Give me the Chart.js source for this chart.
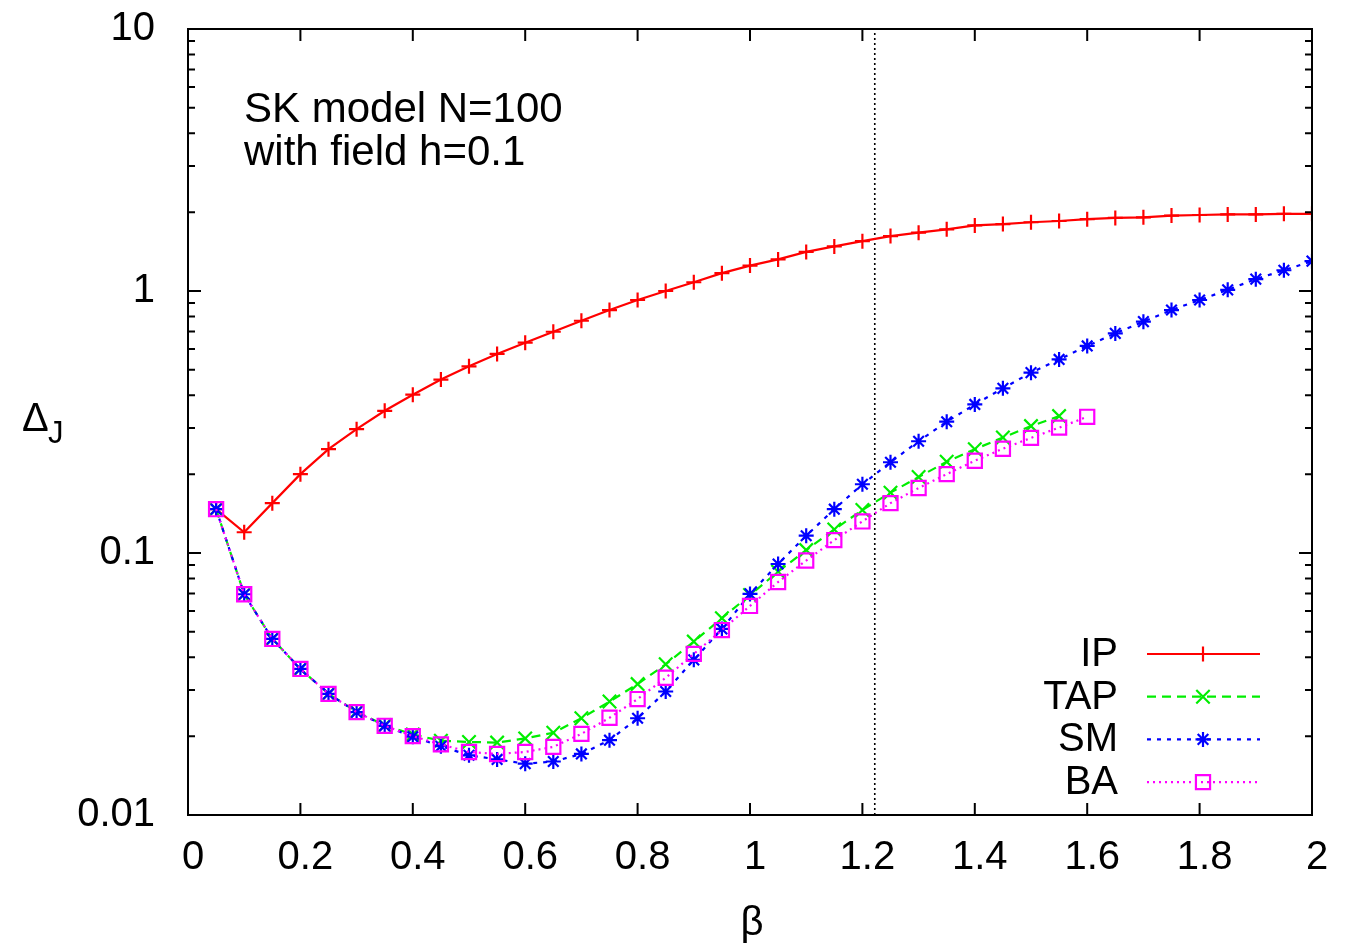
<!DOCTYPE html>
<html><head><meta charset="utf-8">
<script src="https://cdn.jsdelivr.net/npm/chart.js@4/dist/chart.umd.min.js"></script>
<style>html,body{margin:0;padding:0;background:#fff;}canvas{display:block;}</style>
</head><body>
<canvas id="c" width="1345" height="945"></canvas>
<script>
// ---------- data ----------
const beta = [0.05,0.10,0.15,0.20,0.25,0.30,0.35,0.40,0.45,0.50,0.55,0.60,0.65,0.70,0.75,0.80,0.85,0.90,0.95,1.00,
              1.05,1.10,1.15,1.20,1.25,1.30,1.35,1.40,1.45,1.50,1.55,1.60,1.65,1.70,1.75,1.80,1.85,1.90,1.95,2.00];
const ip  = [0.147,0.120,0.155,0.200,0.249,0.297,0.349,0.402,0.459,0.516,0.575,0.635,0.699,0.770,0.846,0.924,1.00,1.08,1.17,1.25,
             1.32,1.41,1.48,1.55,1.62,1.67,1.72,1.78,1.80,1.83,1.85,1.88,1.90,1.91,1.94,1.95,1.96,1.96,1.97,1.97];
const tap = [0.147,0.0696,0.0470,0.0361,0.0290,0.0248,0.0220,0.0203,0.0192,0.0190,0.0189,0.0196,0.0206,0.0234,0.0271,0.0316,0.0376,0.0459,0.0564,0.0691,
             0.0849,0.1026,0.123,0.146,0.170,0.195,0.223,0.249,0.276,0.305,0.333];
const sm  = [0.147,0.0696,0.0470,0.0361,0.0290,0.0247,0.0219,0.0199,0.0183,0.0169,0.0163,0.0157,0.0160,0.0171,0.0193,0.0234,0.0296,0.0391,0.0513,0.0698,
             0.0908,0.1164,0.147,0.183,0.222,0.267,0.317,0.369,0.425,0.488,0.548,0.617,0.689,0.764,0.846,0.924,1.01,1.11,1.20,1.30];
const ba  = [0.147,0.0696,0.0470,0.0361,0.0290,0.0247,0.0219,0.0200,0.0186,0.0174,0.0171,0.0174,0.0182,0.0204,0.0235,0.0277,0.0334,0.0412,0.0508,0.0628,
             0.0775,0.0936,0.112,0.132,0.155,0.177,0.200,0.225,0.250,0.275,0.301,0.331];
const seriesNames = ['IP','TAP','SM','BA'];
const xTickValues = [0,0.2,0.4,0.6,0.8,1,1.2,1.4,1.6,1.8,2];
const xTickLabels = ['0','0.2','0.4','0.6','0.8','1','1.2','1.4','1.6','1.8','2'];
const yTickValues = [0.01,0.1,1,10];
const yTickLabels = ['0.01','0.1','1','10'];
const criticalBeta = 1.222;
const noteLines = ['SK model N=100','with field h=0.1'];
const xTitle = 'β';
const yTitle = 'Δ';
const yTitleSub = 'J';

// ---------- chart ----------
const FONT = "'Liberation Sans', Arial, Helvetica, sans-serif";
Chart.defaults.font.family = FONT;
Chart.defaults.color = '#000';

const pts = v => v.map((y, i) => ({x: beta[i], y}));
const styles = [
  {color:'#ff0000', dash:[],    pointStyle:'cross',    r:7.5, order:4},
  {color:'#00ee00', dash:[9,6], pointStyle:'crossRot', r:9.5, order:3},
  {color:'#0000ff', dash:[4,6], pointStyle:'star',     r:7.5, order:2},
  {color:'#ff00ff', dash:[2,4], pointStyle:'rect',     r:10,  order:1}
];
const seriesData = [ip, tap, sm, ba];
const datasets = seriesData.map((vals, k) => ({
  label: seriesNames[k],
  data: pts(vals),
  borderColor: styles[k].color,
  borderWidth: 2.2,
  borderDash: styles[k].dash,
  pointStyle: styles[k].pointStyle,
  pointRadius: styles[k].r,
  pointBorderWidth: 2.2,
  pointBorderColor: styles[k].color,
  pointBackgroundColor: 'rgba(0,0,0,0)',
  tension: 0,
  fill: false,
  order: styles[k].order
}));
datasets.push({
  label: 'critical',
  data: [{x: criticalBeta, y: yTickValues[0]}, {x: criticalBeta, y: yTickValues[yTickValues.length - 1]}],
  borderColor: '#000', borderWidth: 1.6, borderDash: [2,3], pointRadius: 0, fill: false, order: 5
});

const lbl = (vals, labels) => v => {
  const i = vals.findIndex(t => Math.abs(t - v) < 1e-9);
  return i >= 0 ? labels[i] : '';
};

const decor = {
  id: 'decor',
  afterDraw(chart) {
    const ctx = chart.ctx, a = chart.chartArea, xs = chart.scales.x, ys = chart.scales.y;
    ctx.save();
    ctx.strokeStyle = '#000';
    ctx.lineWidth = 2;
    ctx.setLineDash([]);
    ctx.strokeRect(a.left, a.top, a.right - a.left, a.bottom - a.top);
    ctx.beginPath();
    xTickValues.forEach(v => {
      const px = xs.getPixelForValue(v);
      ctx.moveTo(px, a.bottom); ctx.lineTo(px, a.bottom - 12);
      ctx.moveTo(px, a.top); ctx.lineTo(px, a.top + 12);
    });
    for (let d = 0; d < yTickValues.length; d++) {
      const base = yTickValues[d];
      const py = ys.getPixelForValue(base);
      ctx.moveTo(a.left, py); ctx.lineTo(a.left + 13, py);
      ctx.moveTo(a.right, py); ctx.lineTo(a.right - 13, py);
      if (d < yTickValues.length - 1) {
        for (let m = 2; m <= 9; m++) {
          const pm = ys.getPixelForValue(base * m);
          ctx.moveTo(a.left, pm); ctx.lineTo(a.left + 7, pm);
          ctx.moveTo(a.right, pm); ctx.lineTo(a.right - 7, pm);
        }
      }
    }
    ctx.stroke();

    ctx.fillStyle = '#000';
    ctx.font = '42px ' + FONT;
    ctx.textAlign = 'left';
    ctx.textBaseline = 'alphabetic';
    noteLines.forEach((t, i) => ctx.fillText(t, a.left + 56, a.top + 93 + i * 43));

    ctx.font = '40px ' + FONT;
    ctx.textAlign = 'center';
    ctx.fillText(xTitle, (a.left + a.right) / 2 + 2, 935);
    ctx.textAlign = 'left';
    ctx.font = '40px ' + FONT;
    ctx.fillText(yTitle, 22, 431);
    ctx.font = '31px ' + FONT;
    ctx.fillText(yTitleSub, 48, 443);

    const rowY0 = a.bottom - 161, step = 42.7;
    chart.data.datasets.slice(0, seriesNames.length).forEach((ds, i) => {
      const y = rowY0 + i * step;
      ctx.font = '40px ' + FONT;
      ctx.textAlign = 'right';
      ctx.textBaseline = 'middle';
      ctx.fillStyle = '#000';
      ctx.fillText(ds.label, a.right - 194, y + 1);
      ctx.strokeStyle = ds.borderColor;
      ctx.lineWidth = 2.2;
      ctx.setLineDash(ds.borderDash);
      ctx.beginPath();
      ctx.moveTo(a.right - 165, y); ctx.lineTo(a.right - 52, y);
      ctx.stroke();
      ctx.setLineDash([]);
      ctx.fillStyle = 'rgba(0,0,0,0)';
      Chart.helpers.drawPoint(ctx, {pointStyle: ds.pointStyle, radius: ds.pointRadius, rotation: 0, borderWidth: 2.2}, a.right - 109, y);
    });
    ctx.restore();
  }
};

new Chart(document.getElementById('c'), {
  type: 'line',
  data: {datasets},
  options: {
    responsive: false,
    animation: false,
    layout: {padding: {top: 29, right: 33, left: 0, bottom: 0}},
    plugins: {legend: {display: false}, tooltip: {enabled: false}},
    scales: {
      x: {
        type: 'linear', min: 0, max: 2,
        afterBuildTicks: s => { s.ticks = xTickValues.map(v => ({value: v})); },
        afterFit: s => { s.height = 130; s.paddingLeft = 0; s.paddingRight = 0; },
        ticks: {callback: lbl(xTickValues, xTickLabels), font: {size: 40}, padding: 19, labelOffset: 5, maxRotation: 0, autoSkip: false, color: '#000'},
        grid: {display: false, drawTicks: false},
        border: {display: false}
      },
      y: {
        type: 'logarithmic', min: 0.01, max: 10,
        afterBuildTicks: s => { s.ticks = yTickValues.map(v => ({value: v, major: true})); },
        afterFit: s => { s.width = 188; s.paddingTop = 0; s.paddingBottom = 0; },
        ticks: {callback: lbl(yTickValues, yTickLabels), font: {size: 40}, padding: 33, autoSkip: false, color: '#000'},
        grid: {display: false, drawTicks: false},
        border: {display: false}
      }
    }
  },
  plugins: [decor]
});
</script>
</body></html>
